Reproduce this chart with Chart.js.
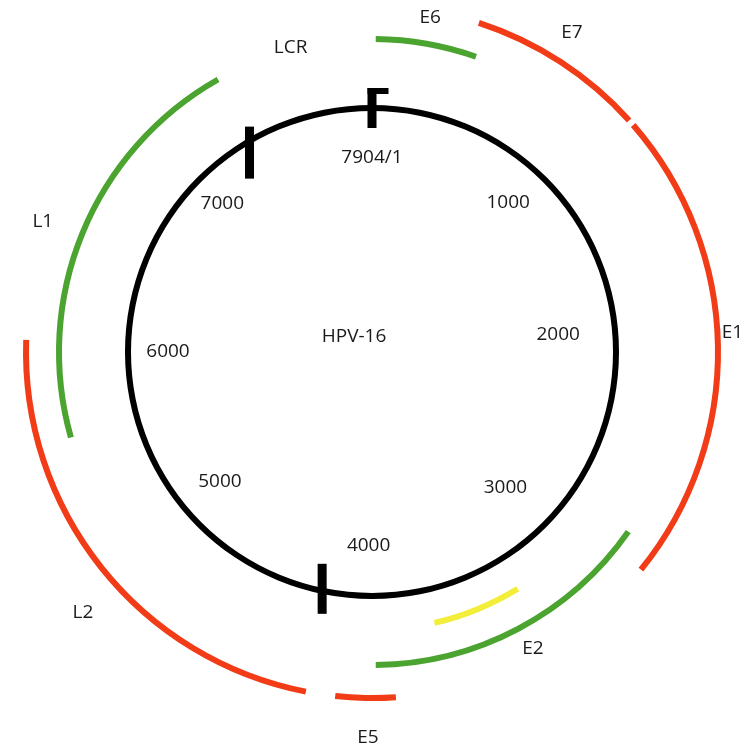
<!DOCTYPE html>
<html>
<head>
<meta charset="utf-8">
<script src="https://cdn.jsdelivr.net/npm/chart.js@4.4.1/dist/chart.umd.min.js"></script>
<style>
  html, body { margin: 0; padding: 0; background: #fff; }
  #wrap { width: 756px; height: 747px; position: relative; }
</style>
</head>
<body>
<div id="wrap"><canvas id="genome"></canvas></div>
<script>
/* globals Chart:false */
const GENOME_LENGTH = 7904

// genes (positions as drawn on the map, bp)
const geneNames  = ['E6', 'E7', 'E1', 'E2', 'E4', 'E5', 'L2', 'L1']
const geneStarts = [15, 395, 1076, 2745, 3258, 3865, 4194, 5580]
const geneEnds   = [426, 1054, 2832, 3937, 3667, 4086, 5972, 7257]
const geneTracks = ['green', 'red', 'red', 'green', 'yellow', 'red', 'red', 'green']

// scale ticks round the genome circle
const tickValues = [0, 1000, 2000, 3000, 4000, 5000, 6000, 7000]
const tickLabels = ['7904/1', '1000', '2000', '3000', '4000', '5000', '6000', '7000']
const boundaryMarks = [0, 7211, 4213]

// label placement: [bp along circle, radius px]
const labelLayout = {
  E6: [217, 339], E7: [703, 377], E1: [1910, 361], E2: [3326, 337],
  E5: [3965, 386], L2: [5006, 389], L1: [6402, 354], LCR: [7575, 315]
}
const tickLabelLayout = [[0, 194], [931, 202], [1862, 187], [2973, 190],
  [3974, 194], [5039, 200], [5928, 204], [6912, 211]]
const markLayout = [{ h: 40, dr: 0, flag: true }, { h: 52, dr: -10 }, { h: 50, dr: -2 }]

const trackColors = { red: '#f23c17', green: '#4ba42f', yellow: '#f2ee3a', black: '#000000' }

function trackDataset (track, weight) {
  const idx = geneNames.map((_, i) => i).filter(i => geneTracks[i] === track)
    .sort((a, b) => geneStarts[a] - geneStarts[b])
  const data = []
  const colors = []
  let pos = 0
  idx.forEach(i => {
    data.push(geneStarts[i] - pos); colors.push('rgba(0,0,0,0)')
    data.push(geneEnds[i] - geneStarts[i]); colors.push(trackColors[track])
    pos = geneEnds[i]
  })
  data.push(GENOME_LENGTH - pos); colors.push('rgba(0,0,0,0)')
  return { data, backgroundColor: colors, weight }
}

function spacer (weight) {
  return { data: [GENOME_LENGTH], backgroundColor: ['rgba(0,0,0,0)'], weight }
}

const genomeOverlay = {
  id: 'genomeOverlay',
  afterDatasetsDraw (chart) {
    const meta = chart.getDatasetMeta(chart.data.datasets.length - 1)
    const arc = meta.data[0]
    const { x: cx, y: cy, outerRadius, innerRadius } =
      arc.getProps(['x', 'y', 'outerRadius', 'innerRadius'], true)
    const r = (outerRadius + innerRadius) / 2
    const ctx = chart.ctx
    const at = (bp, rad) => {
      const a = bp / GENOME_LENGTH * Math.PI * 2 - Math.PI / 2
      return [cx + rad * Math.cos(a), cy + rad * Math.sin(a)]
    }

    ctx.save()
    // boundary bars
    ctx.fillStyle = '#000'
    boundaryMarks.forEach((bp, i) => {
      const m = markLayout[i]
      const [x, y] = at(bp, r + m.dr)
      ctx.fillRect(x - 4.5, y - m.h / 2, 9, m.h)
      if (m.flag) ctx.fillRect(x - 4.5, y - m.h / 2, 21, 6)
    })

    ctx.fillStyle = '#1a1a1a'
    ctx.textAlign = 'center'
    ctx.textBaseline = 'middle'
    ctx.font = '19px "Open Sans"'
    tickValues.forEach((v, i) => {
      const [bp, rad] = tickLabelLayout[i]
      const [x, y] = at(bp, rad)
      ctx.fillText(tickLabels[i], x, y)
    })

    Object.keys(labelLayout).forEach(name => {
      const [bp, rad] = labelLayout[name]
      const [x, y] = at(bp, rad)
      ctx.fillText(name, x, y)
    })

    ctx.fillText('HPV-16', cx - 18, cy - 15)
    ctx.restore()
  }
}

// eslint-disable-next-line no-unused-vars
const genomeChart = new Chart(document.getElementById('genome'), {
  type: 'doughnut',
  data: {
    labels: [],
    datasets: [
      spacer(3),
      trackDataset('red', 6),
      spacer(27),
      trackDataset('green', 6),
      spacer(29),
      trackDataset('yellow', 6),
      spacer(28),
      { data: [GENOME_LENGTH], backgroundColor: [trackColors.black], weight: 6 }
    ]
  },
  options: {
    responsive: true,
    maintainAspectRatio: false,
    animation: false,
    cutout: 241,
    radius: 352,
    borderWidth: 0,
    hoverOffset: 0,
    offset: 0,
    events: [],
    layout: { padding: { left: 0, right: 12, top: 0, bottom: 43 } },
    plugins: {
      legend: { display: false },
      tooltip: { enabled: false }
    }
  },
  plugins: [genomeOverlay]
})
</script>
</body>
</html>
